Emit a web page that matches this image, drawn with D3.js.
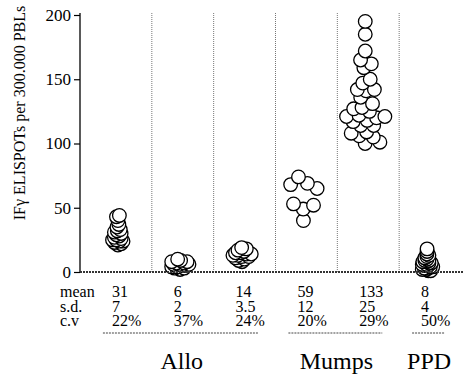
<!DOCTYPE html>
<html>
<head>
<meta charset="utf-8">
<script src="https://cdn.jsdelivr.net/npm/d3@7"></script>
<style>
  body { margin: 0; background: #fff; }
  svg text { font-family: "Liberation Serif", "Times New Roman", "DejaVu Serif", serif; fill: #000; }
</style>
</head>
<body>
<svg id="chart" width="464" height="377" font-family="Liberation Serif, serif"></svg>
<script>
// columns, left to right
const groups = ["Allo-1", "Allo-2", "Allo-3", "Mumps-1", "Mumps-2", "PPD"];
const families = ["Allo", "Allo", "Allo", "Mumps", "Mumps", "PPD"];

// spots per 300.000 PBLs
const allo1 = [43, 44, 40, 37, 35, 33, 32, 31, 30, 29, 28, 27, 26, 25, 25, 24, 24, 23, 22, 21];
const allo2 = [10, 9, 8, 8, 7, 7, 6, 6, 6, 5, 5, 4, 4, 3, 3, 2];
const allo3 = [19, 18, 17, 16, 15, 15, 14, 14, 13, 13, 12, 12, 11, 10, 9, 8];
const mumps1 = [74, 69, 68, 65, 53, 52, 49, 40];
const mumps2 = [195, 185, 172, 165, 162, 159, 150, 147, 142, 142, 141, 136, 131, 128, 127,
  125, 122, 121, 121, 120, 118, 117, 114, 114, 109, 108, 106, 105, 101, 100];
const ppd = [18, 16, 14, 13, 12, 11, 10, 9, 9, 8, 8, 7, 7, 6, 6, 5, 5, 4, 4, 3, 3, 2, 2, 1, 1];
const series = [allo1, allo2, allo3, mumps1, mumps2, ppd];

// table under the axis
const rowNames = ["mean", "s.d.", "c.v"];
const means = ["31", "6", "14", "59", "133", "8"];
const sds = ["7", "2", "3.5", "12", "25", "4"];
const cvs = ["22%", "37%", "24%", "20%", "29%", "50%"];

const yTicks = [0, 50, 100, 150, 200];

const svg = d3.select("#chart");
const serif = '"Liberation Serif", "Times New Roman", serif';

const y = d3.scaleLinear().domain([0, 200]).range([272, 15]);
const x = d3.scaleBand().domain(groups).range([90, 461]);
const cx = (g) => x(g) + x.bandwidth() / 2 - 3;

// how tight each column is packed: collision radius (px) and pull to centre
const packing = [1.6, 1.6, 1.8, 5.5, 4.2, 1.2];
const pull = [0.25, 0.25, 0.25, 0.1, 0.14, 0.3];

// dotted column separators
svg
  .append("g")
  .selectAll("line")
  .data(groups.slice(1))
  .join("line")
  .attr("x1", (d) => x(d))
  .attr("x2", (d) => x(d))
  .attr("y1", 13)
  .attr("y2", y(0))
  .attr("stroke", "#777")
  .attr("stroke-width", 1)
  .attr("stroke-dasharray", "1,1");

// y axis
const yAxis = d3.axisLeft(y).tickValues(yTicks).tickSize(6).tickSizeOuter(0).tickPadding(3);
const yAxisGroup = svg
  .append("g")
  .attr("transform", "translate(80,0)")
  .call(yAxis)
  .attr("font-family", serif);
yAxisGroup.select(".domain").attr("stroke", "#000").attr("stroke-width", 1.3).attr("d", `M0,13V${y(0)}`);
yAxisGroup.selectAll(".tick line").attr("stroke", "#000").attr("stroke-width", 1.2);
yAxisGroup
  .selectAll(".tick text")
  .style("font-family", serif)
  .attr("font-size", 17)
  .attr("fill", "#000");

svg
  .append("text")
  .attr("transform", `translate(25,113) rotate(-90)`)
  .attr("text-anchor", "middle")
  .attr("font-size", 16)
  .text("IFγ ELISPOTs per 300.000 PBLs");

// points: value fixes y, a small force pass spreads them sideways
const dotLayer = svg.append("g");
series.forEach((vals, i) => {
  const c = cx(groups[i]);
  const nodes = vals.map((v) => ({ v: v, x: c, y: y(v), fy: y(v) }));
  const sim = d3
    .forceSimulation(nodes)
    .force("x", d3.forceX(c).strength(pull[i]))
    .force("collide", d3.forceCollide(packing[i]).iterations(2))
    .stop();
  sim.tick(250);
  nodes.sort((a, b) => a.v - b.v);
  dotLayer
    .append("g")
    .selectAll("circle")
    .data(nodes)
    .join("circle")
    .attr("cx", (d) => d.x)
    .attr("cy", (d) => d.fy)
    .attr("r", 6.8)
    .attr("fill", "#fff")
    .attr("stroke", "#000")
    .attr("stroke-width", 1.3);
});

// baseline (dotted, heavy)
svg
  .append("line")
  .attr("x1", 80)
  .attr("x2", 464)
  .attr("y1", y(0))
  .attr("y2", y(0))
  .attr("stroke", "#333")
  .attr("stroke-width", 2)
  .attr("stroke-dasharray", "2,1");

// table
const rowY = [297, 311.5, 326];
const table = svg.append("g").attr("font-size", 16);
rowNames.forEach((r, j) => {
  table.append("text").attr("x", 60).attr("y", rowY[j]).text(r);
});
[means, sds, cvs].forEach((row, j) => {
  table
    .append("g")
    .selectAll("text")
    .data(row)
    .join("text")
    .attr("x", (d, i) => cx(groups[i]) - 6)
    .attr("y", rowY[j])
    .text((d) => d);
});

// family underlines and names
const familyNames = Array.from(new Set(families));
familyNames.forEach((f) => {
  const members = groups.filter((g, i) => families[i] === f);
  const x0 = cx(members[0]) - 15;
  const x1 = cx(members[members.length - 1]) + 17;
  svg
    .append("line")
    .attr("x1", x0)
    .attr("x2", x1)
    .attr("y1", 333)
    .attr("y2", 333)
    .attr("stroke", "#444")
    .attr("stroke-width", 1)
    .attr("stroke-dasharray", "2,1");
  svg
    .append("text")
    .attr("x", d3.mean(members, (g) => cx(g)) + 2)
    .attr("y", 369)
    .attr("text-anchor", "middle")
    .attr("font-size", 24)
    .text(f);
});
</script>
</body>
</html>
